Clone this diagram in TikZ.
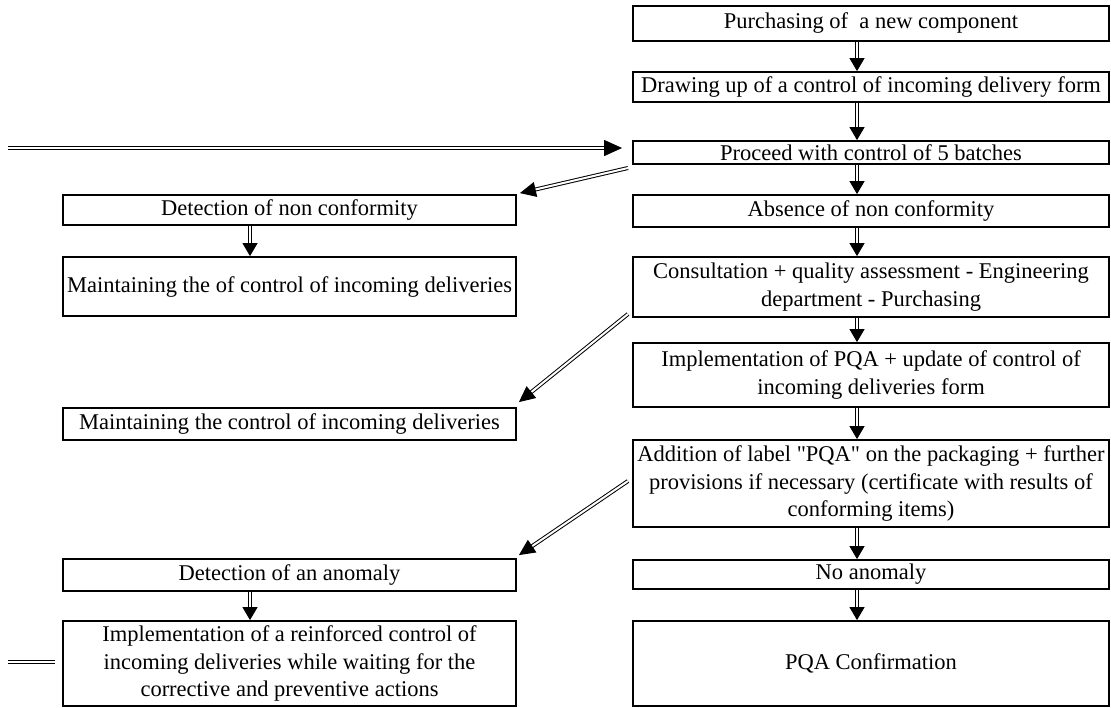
\documentclass[tikz,border=0pt]{standalone}
\usepackage{fontspec}
\setmainfont{Liberation Serif}
\usepackage{tikz}
\usetikzlibrary{arrows.meta,calc}
\tikzset{box/.style={draw,line width=0.9pt,inner sep=0pt,align=center,font=\fontsize{11.25}{13.75}\selectfont},
rbox/.style={box,minimum width=238pt},lbox/.style={box,minimum width=226.5pt},
dbl/.style={double,double distance=0.9pt,line width=0.5pt,-{Triangle[length=6.5pt,width=7.5pt]}},
diag/.style={double,double distance=1pt,line width=0.5pt,-{Triangle[length=8pt,width=7.5pt]}},
big/.style={double,double distance=1.2pt,line width=0.6pt,shorten >=5pt,-{Triangle[length=9pt,width=8pt]}},
dblline/.style={double,double distance=1.2pt,line width=0.6pt}}

\begin{document}
\begin{tikzpicture}[x=0.5pt,y=-0.5pt]
  \useasboundingbox (0,0) rectangle (1111,707);
  \node[rbox,minimum height=17.5pt] (r1) at (871,23.5) {Purchasing of~ a new component};
  \node[rbox,minimum height=15pt] (r2) at (871,87) {Drawing up of a control of incoming delivery form};
  \node[rbox,minimum height=11.5pt] (r3) at (871,152.5) {Proceed with control of 5 batches};
  \node[rbox,minimum height=16pt] (r4) at (871,211) {Absence of non conformity};
  \node[rbox,minimum height=30pt] (r5) at (871,287) {Consultation + quality assessment - Engineering\\department - Purchasing};
  \node[rbox,minimum height=32pt] (r6) at (871,375) {Implementation of PQA + update of control of\\incoming deliveries form};
  \node[rbox,minimum height=43.5pt] (r7) at (871,483.5) {Addition of label \textquotedbl PQA\textquotedbl{} on the packaging + further\\provisions if necessary (certificate with results of\\conforming items)};
  \node[rbox,minimum height=14.5pt] (r8) at (871,574.5) {No anomaly};
  \node[rbox,minimum height=42.5pt] (r9) at (871,663.5) {PQA Confirmation};
  \node[lbox,minimum height=15pt] (l1) at (289.5,210) {Detection of non conformity};
  \node[lbox,minimum height=29.5pt] (l2) at (289.5,286.5) {Maintaining the of control of incoming deliveries};
  \node[lbox,minimum height=16pt] (l3) at (289.5,424) {Maintaining the control of incoming deliveries};
  \node[lbox,minimum height=16pt] (l4) at (289.5,575) {Detection of an anomaly};
  \node[lbox,minimum height=42.5pt] (l5) at (289.5,663.5) {Implementation of a reinforced control of\\incoming deliveries while waiting for the\\corrective and preventive actions};
  \coordinate (rc) at (857,0);
  \coordinate (lc) at (250,0);
  \coordinate (s) at (8,148);
  \coordinate (t1) at (628,168);
  \coordinate (t2) at (628,314);
  \coordinate (t3) at (628,481);
  \coordinate (u1) at (8,662);
  \coordinate (u2) at (55,662);
  \draw (r1.south -| rc) edge[dbl] (r2.north -| rc)
   (r2.south -| rc) edge[dbl] (r3.north -| rc)
   (r3.south -| rc) edge[dbl] (r4.north -| rc)
   (r4.south -| rc) edge[dbl] (r5.north -| rc)
   (r5.south -| rc) edge[dbl] (r6.north -| rc)
   (r6.south -| rc) edge[dbl] (r7.north -| rc)
   (r7.south -| rc) edge[dbl] (r8.north -| rc)
   (r8.south -| rc) edge[dbl] (r9.north -| rc)
   (l1.south -| lc) edge[dbl] (l2.north -| lc)
   (l4.south -| lc) edge[dbl] (l5.north -| lc);
  \draw (t1) edge[diag] ([shift={(3,-1)}]l1.north east)
   (t2) edge[diag] ([shift={(2,-5)}]l3.north east)
   (t3) edge[diag] ([shift={(2,-3)}]l4.north east);
  \draw[big] (s) -- (s -| r3.west);
  \draw[dblline] (u1) -- (u2);
\end{tikzpicture}
\end{document}
